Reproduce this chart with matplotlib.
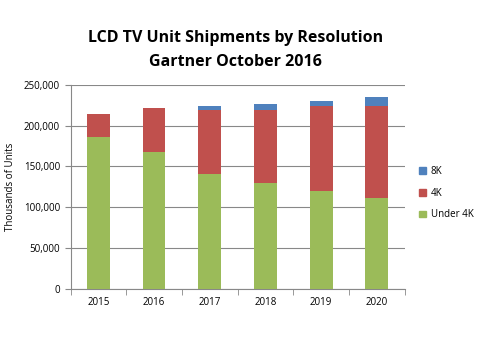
import numpy as np
import matplotlib.pyplot as plt
from matplotlib.ticker import FuncFormatter, FixedLocator
from matplotlib.patches import Patch

years = ['2015', '2016', '2017', '2018', '2019', '2020']
under_4k = [186000, 167500, 140500, 129500, 120000, 111000]
res_4k = [28500, 54000, 78000, 90000, 104000, 112500]
res_8k = [0, 0, 5800, 7000, 6000, 12000]

c_under = '#9BBB59'
c_4k = '#C0504D'
c_8k = '#4F81BD'

plt.rcParams['font.family'] = ['Open Sans', 'DejaVu Sans']

fig = plt.figure(figsize=(4.8, 3.42), dpi=100)
ax = fig.add_axes([0.147, 0.156, 0.696, 0.596])

x = np.arange(len(years))
under = np.array(under_4k)
k4 = np.array(res_4k)
k8 = np.array(res_8k)
w = 0.41
ax.bar(x, under, w, color=c_under, zorder=3)
ax.bar(x, k4, w, bottom=under, color=c_4k, zorder=3)
ax.bar(x, k8, w, bottom=under + k4, color=c_8k, zorder=3)

ax.set_xlim(-0.5, len(years) - 0.5)
ax.set_ylim(0, 250000)
ax.set_yticks(np.arange(0, 250001, 50000))
ax.yaxis.set_major_formatter(FuncFormatter(lambda v, p: '{:,.0f}'.format(v)))
ax.grid(axis='y', color='#888888', linewidth=0.8, zorder=0)

ax.set_xticks(x)
ax.set_xticklabels(years)
ax.xaxis.set_minor_locator(FixedLocator(np.arange(-0.5, len(years), 1.0)))
ax.tick_params(axis='x', which='major', length=0, labelsize=7, pad=6)
ax.tick_params(axis='x', which='minor', length=4, color='#888888')
ax.tick_params(axis='y', labelsize=7, length=4, color='#888888')

for s in ['top', 'right']:
    ax.spines[s].set_visible(False)
for s in ['left', 'bottom']:
    ax.spines[s].set_color('#888888')

ax.set_ylabel('Thousands of Units', fontsize=7, labelpad=6)

fig.text(0.49, 0.888, 'LCD TV Unit Shipments by Resolution', ha='center',
         va='center', fontsize=11.5, fontweight='bold')
fig.text(0.49, 0.818, 'Gartner October 2016', ha='center', va='center',
         fontsize=11.5, fontweight='bold')

handles = [Patch(color=c_8k, label='8K'), Patch(color=c_4k, label='4K'),
           Patch(color=c_under, label='Under 4K')]
fig.legend(handles=handles, loc='center left', bbox_to_anchor=(0.855, 0.435),
           frameon=False, fontsize=7, handlelength=0.7, handleheight=0.7,
           handletextpad=0.5, labelspacing=1.1)

fig.savefig('out.png', dpi=100)
